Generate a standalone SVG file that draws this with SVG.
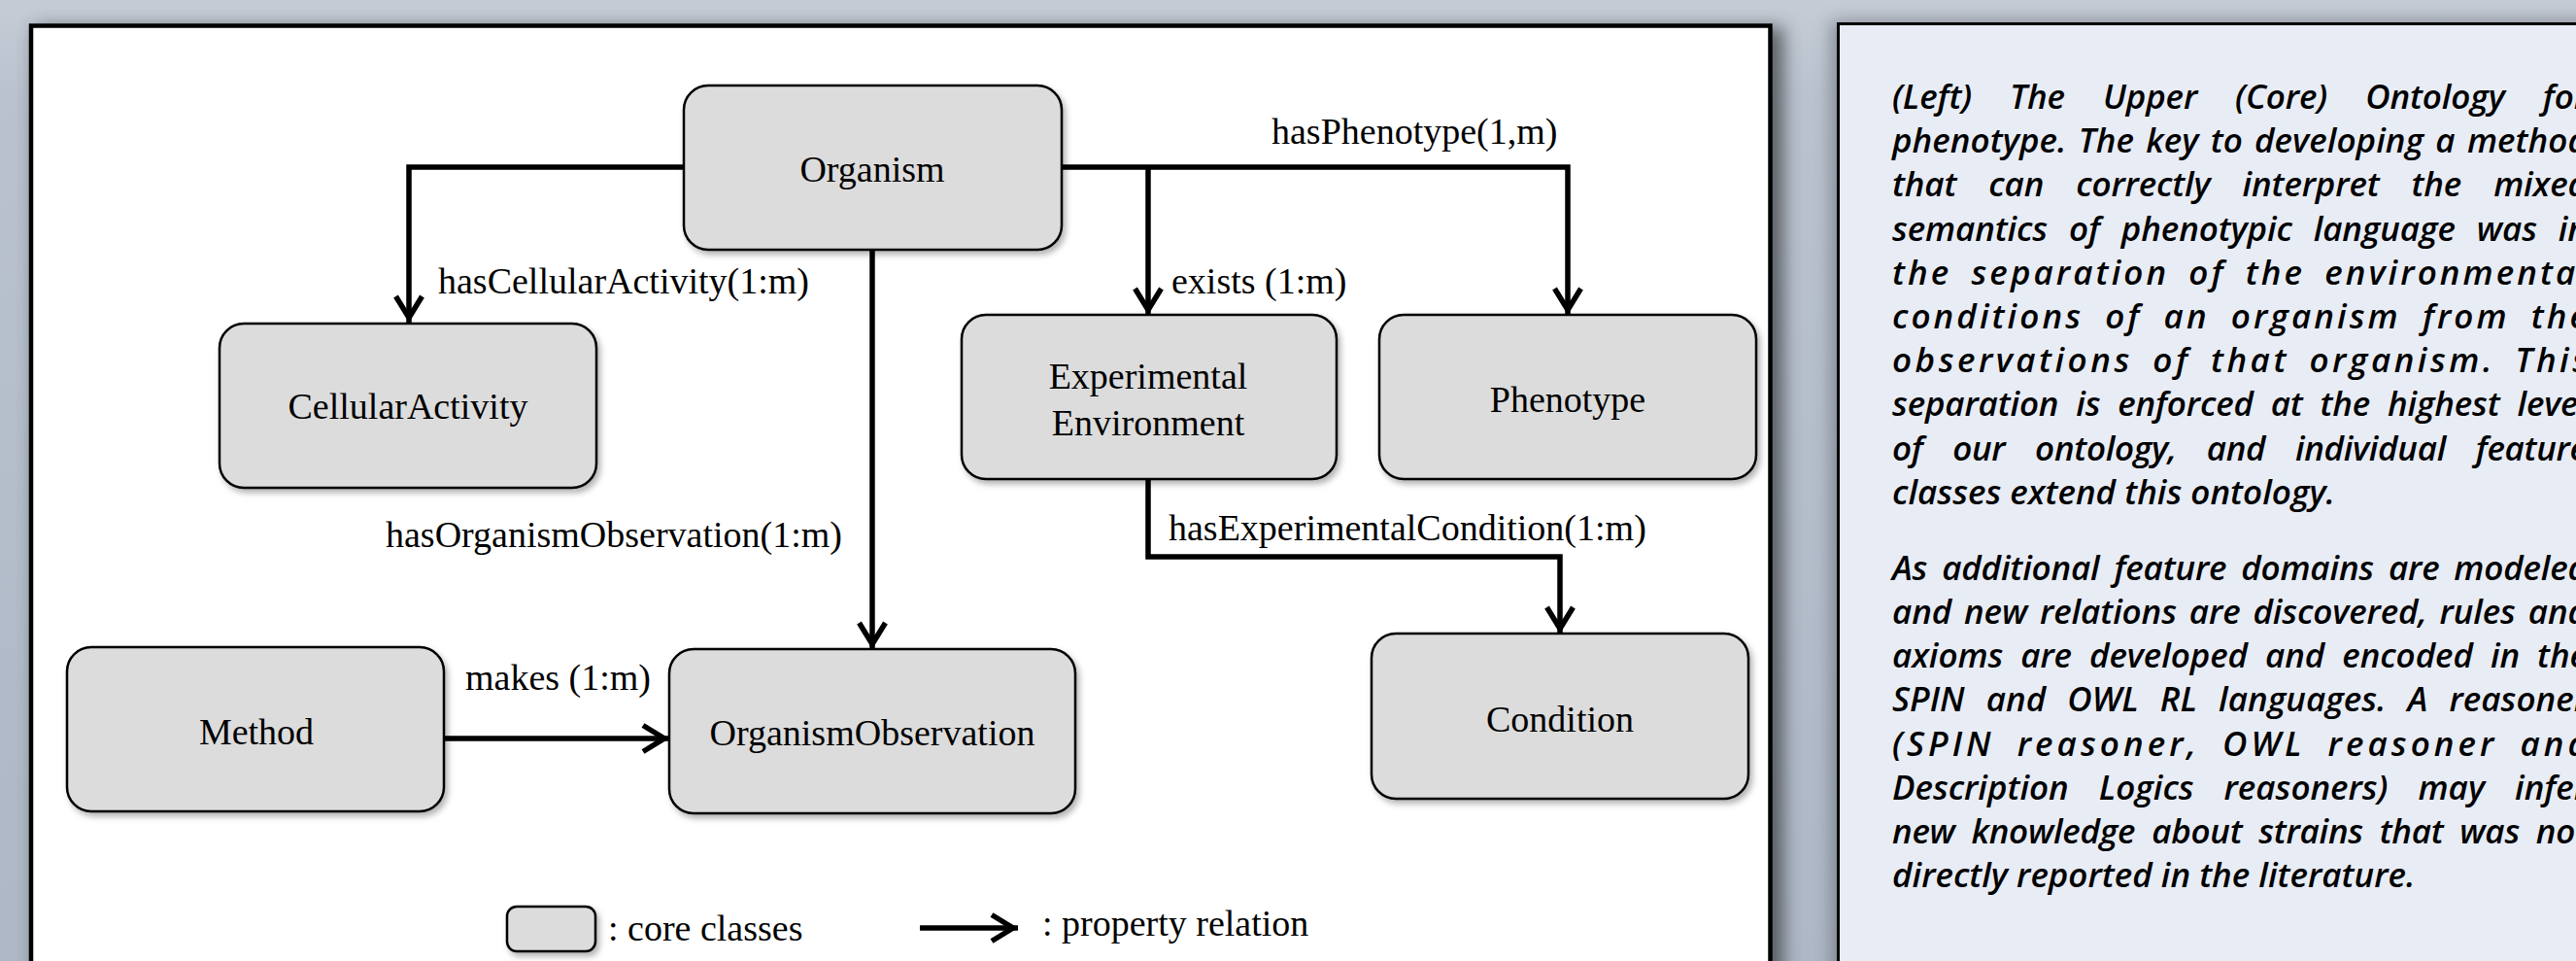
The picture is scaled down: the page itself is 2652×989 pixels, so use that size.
<svg xmlns="http://www.w3.org/2000/svg" width="2652" height="989" viewBox="0 0 2652 989">
<defs>
<linearGradient id="bg" x1="0" y1="0" x2="0" y2="1">
<stop offset="0" stop-color="#c6ccd6"/>
<stop offset="0.1" stop-color="#b9c2ce"/>
<stop offset="1" stop-color="#aeb8c6"/>
</linearGradient>
<filter id="pshadow" x="-5%" y="-5%" width="110%" height="110%">
<feGaussianBlur stdDeviation="9"/>
</filter>
<filter id="bshadow" x="-10%" y="-10%" width="125%" height="130%">
<feDropShadow dx="3" dy="4" stdDeviation="3" flood-color="#000" flood-opacity="0.3"/>
</filter>
<marker id="arrow" markerUnits="userSpaceOnUse" markerWidth="40" markerHeight="40" viewBox="-34 -20 40 40" refX="0" refY="0" orient="auto">
<path d="M-27,-13.5 L-5,0 L-27,13.5" fill="none" stroke="#000" stroke-width="5.5" stroke-linejoin="miter" stroke-miterlimit="10"/>
</marker>
</defs>
<style>
.node rect{fill:#dcdcdc;stroke:#000;stroke-width:2.5;filter:url(#bshadow)}
.lbl{font-family:"Liberation Serif","Times New Roman",serif;font-size:38px;fill:#000}
.c{text-anchor:middle}
.conn path{fill:none;stroke:#000;stroke-width:5.5;stroke-linejoin:miter}
.cap{font-family:"Open Sans","Noto Sans",sans-serif;font-style:italic;font-weight:600;font-size:35px;fill:#000}
</style>
<rect width="2652" height="989" fill="url(#bg)"/>
<!-- panel shadows -->
<rect x="36" y="28" width="1800" height="1000" fill="#3a3c40" opacity="0.75" filter="url(#pshadow)"/>
<rect x="1886" y="22" width="800" height="1000" fill="#50555c" opacity="0.55" filter="url(#pshadow)"/>
<!-- left panel -->
<rect id="leftPanel" x="32" y="26.5" width="1790.5" height="1000" fill="#ffffff" stroke="#000" stroke-width="4.5"/>
<!-- right panel -->
<rect id="rightPanel" x="1892.5" y="24.5" width="800" height="1000" fill="#e8ecf5" stroke="#000" stroke-width="3"/>

<g id="connectors" class="conn">
<path d="M704,172 H421 V332" marker-end="url(#arrow)"/>
<path d="M1093,172 H1614 V324" marker-end="url(#arrow)"/>
<path d="M1182,172 V324" marker-end="url(#arrow)"/>
<path d="M898,257 V668" marker-end="url(#arrow)"/>
<path d="M1182,493 V573 H1606 V652" marker-end="url(#arrow)"/>
<path d="M457,760 H689" marker-end="url(#arrow)"/>
<path d="M947,955 H1048" marker-end="url(#arrow)"/>
<text class="lbl" x="451" y="302">hasCellularActivity(1:m)</text>
<text class="lbl" x="1309" y="148">hasPhenotype(1,m)</text>
<text class="lbl" x="1206" y="302">exists (1:m)</text>
<text class="lbl" x="397" y="563">hasOrganismObservation(1:m)</text>
<text class="lbl" x="1203" y="556">hasExperimentalCondition(1:m)</text>
<text class="lbl" x="479" y="710">makes (1:m)</text>
</g>

<g id="organism" class="node"><rect x="704" y="88" width="389" height="169" rx="25"/><text class="lbl c" x="898" y="187">Organism</text></g>
<g id="cellularActivity" class="node"><rect x="226" y="333" width="388" height="169" rx="25"/><text class="lbl c" x="420" y="431">CellularActivity</text></g>
<g id="experimentalEnvironment" class="node"><rect x="990" y="324" width="386" height="169" rx="25"/><text class="lbl c" x="1182" y="400">Experimental</text><text class="lbl c" x="1182" y="448">Environment</text></g>
<g id="phenotype" class="node"><rect x="1420" y="324" width="388" height="169" rx="25"/><text class="lbl c" x="1614" y="424">Phenotype</text></g>
<g id="method" class="node"><rect x="69" y="666" width="388" height="169" rx="25"/><text class="lbl c" x="264" y="766">Method</text></g>
<g id="organismObservation" class="node"><rect x="689" y="668" width="418" height="169" rx="25"/><text class="lbl c" x="898" y="767">OrganismObservation</text></g>
<g id="condition" class="node"><rect x="1412" y="652" width="388" height="170" rx="25"/><text class="lbl c" x="1606" y="753">Condition</text></g>

<g id="legend">
<g class="node"><rect x="522" y="933" width="91" height="46" rx="10"/></g>
<text class="lbl" x="626" y="968">: core classes</text>
<text class="lbl" x="1073" y="963">: property relation</text>
</g>

<g id="caption" class="cap">
<text x="1948" y="112" textLength="716" lengthAdjust="spacing" word-spacing="30">(Left) The Upper (Core) Ontology for</text>
<text x="1948" y="157" textLength="716" lengthAdjust="spacing" word-spacing="3">phenotype. The key to developing a method</text>
<text x="1948" y="202" textLength="716" lengthAdjust="spacing" word-spacing="24">that can correctly interpret the mixed</text>
<text x="1948" y="248" textLength="716" lengthAdjust="spacing" word-spacing="13">semantics of phenotypic language was in</text>
<text x="1948" y="293" textLength="716" lengthAdjust="spacing" word-spacing="8">the separation of the environmental</text>
<text x="1948" y="338" textLength="716" lengthAdjust="spacing" word-spacing="10">conditions of an organism from the</text>
<text x="1948" y="383" textLength="716" lengthAdjust="spacing" word-spacing="8">observations of that organism. This</text>
<text x="1948" y="428" textLength="716" lengthAdjust="spacing" word-spacing="9">separation is enforced at the highest level</text>
<text x="1948" y="474" textLength="716" lengthAdjust="spacing" word-spacing="22">of our ontology, and individual feature</text>
<text x="1948" y="519">classes extend this ontology.</text>
<text x="1948" y="597" textLength="716" lengthAdjust="spacing" word-spacing="6">As additional feature domains are modeled</text>
<text x="1948" y="642" textLength="716" lengthAdjust="spacing" word-spacing="4">and new relations are discovered, rules and</text>
<text x="1948" y="687" textLength="716" lengthAdjust="spacing" word-spacing="9">axioms are developed and encoded in the</text>
<text x="1948" y="732" textLength="716" lengthAdjust="spacing" word-spacing="13">SPIN and OWL RL languages. A reasoner</text>
<text x="1948" y="778" textLength="716" lengthAdjust="spacing" word-spacing="10">(SPIN reasoner, OWL reasoner and</text>
<text x="1948" y="823" textLength="716" lengthAdjust="spacing" word-spacing="22">Description Logics reasoners) may infer</text>
<text x="1948" y="868" textLength="716" lengthAdjust="spacing" word-spacing="8">new knowledge about strains that was not</text>
<text x="1948" y="913">directly reported in the literature.</text>
</g>
</svg>
